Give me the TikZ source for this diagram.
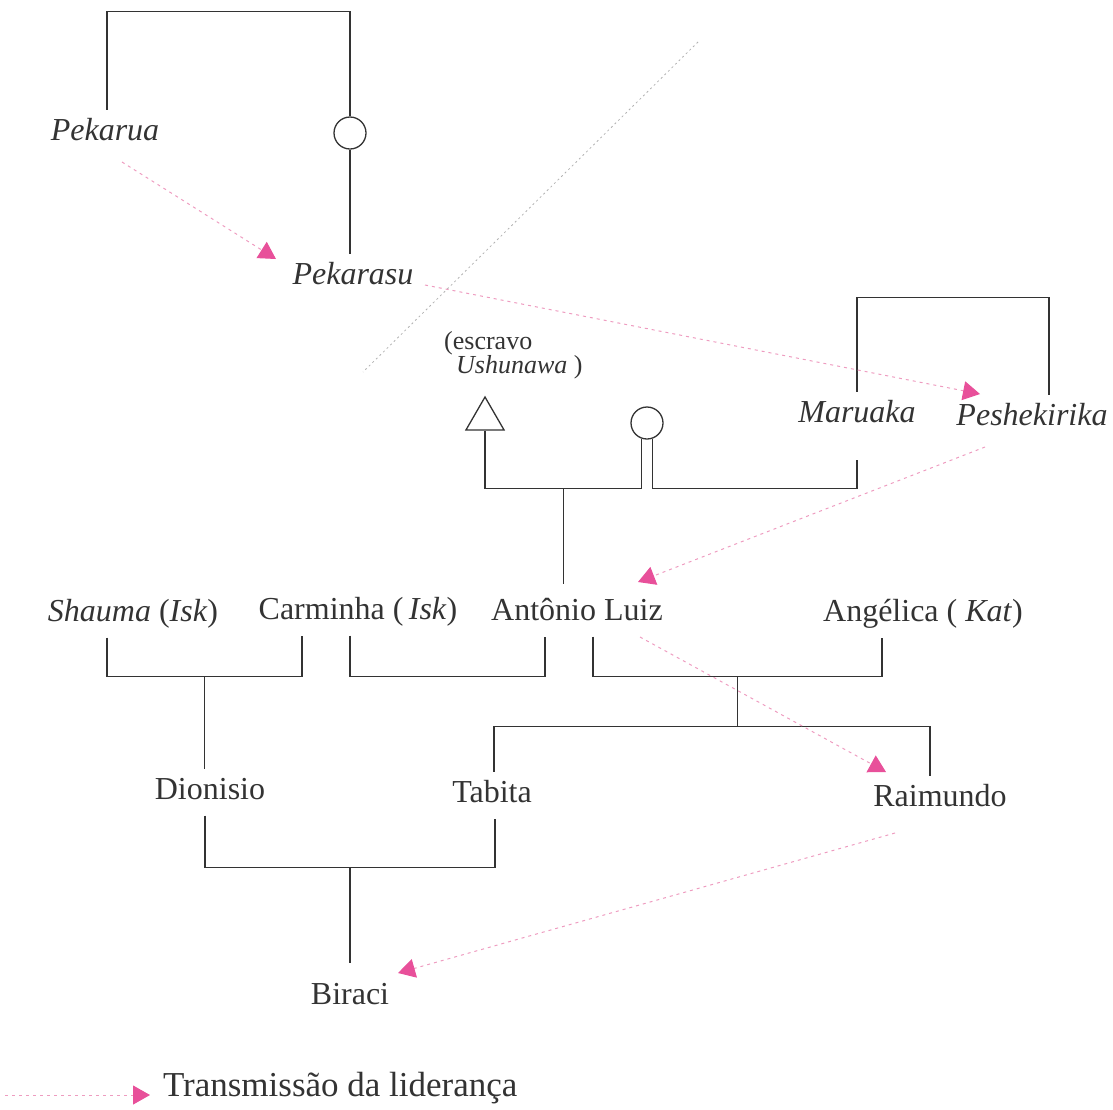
\documentclass[tikz,border=0pt]{standalone}
\usepackage{fontspec}
\setmainfont{Liberation Serif}
\usetikzlibrary{calc,arrows.meta,positioning,shapes.geometric}
\definecolor{tinta}{HTML}{333333}
\definecolor{rosa}{HTML}{E8509A}
\definecolor{rosaclaro}{HTML}{EE9CC0}

\begin{document}
\begin{tikzpicture}[x=1pt, y=-1pt,
    every node/.style={text=tinta, font=\fontsize{32}{36}\selectfont},
    nome/.style={inner sep=2pt, outer sep=7pt, text height=22pt, text depth=7pt},
    nota/.style={inner sep=0pt, font=\fontsize{26}{24}\selectfont},
    mulher/.style={draw=tinta, circle, line width=1.3pt, minimum size=32pt, inner sep=0pt},
    homem/.style={draw=tinta, regular polygon, regular polygon sides=3, line width=1.3pt, minimum size=44pt, inner sep=0pt},
    parente/.style={draw=tinta, line width=1.3pt},
    divisa/.style={draw=gray!60, line width=0.8pt, dash pattern=on 2pt off 3pt},
    lider/.style={draw=rosaclaro, line width=1pt, dash pattern=on 3pt off 4pt, -{Triangle[length=17pt, width=19pt, color=rosa]}}]
    \useasboundingbox (0,0) rectangle (1113,1109);

    % geracoes antigas
    \node[nome] (pekarua) at (105,133) {\textit{Pekarua}};
    \node[mulher] (mae1) at (350,133) {};
    \node[nome] (pekarasu) at (353,277) {\textit{Pekarasu}};
    \node[nome] (maruaka) at (857,415) {\textit{Maruaka}};
    \node[nome] (peshekirika) at (1032,418) {\textit{Peshekirika}};
    \node[nota, anchor=base west] (txtescravo) at (444,349) {(escravo};
    \node[nota, anchor=base west] (txtushunawa) at (456,373) {\textit{Ushunawa} )};
    \node[homem] (escravo) at (485,419) {};
    \node[mulher] (mae2) at (647,423) {};

    % geracoes recentes
    \node[nome] (shauma) at (133,614) {\textit{Shauma} (\textit{Isk})};
    \node[nome] (carminha) at (358,612) {Carminha (\,\textit{Isk})};
    \node[nome] (antonio) at (577,613) {Antônio Luiz};
    \node[nome] (angelica) at (923,614) {Angélica ( \textit{Kat})};
    \node[nome] (dionisio) at (210,792) {Dionisio};
    \node[nome] (tabita) at (492,795) {Tabita};
    \node[nome] (raimundo) at (940,799) {Raimundo};
    \node[nome] (biraci) at (350,997) {Biraci};

    % parentesco
    \draw[parente] ([xshift=2pt]pekarua.north) -- ++(0,-98) -| (mae1.north);
    \draw[parente] (mae1.south) -- (mae1.south |- pekarasu.north);
    \draw[parente] (maruaka.north) -- ++(0,-94) -| ([xshift=17pt]peshekirika.north);
    \draw[parente] (escravo.south) -- ++(0,58) coordinate (uniao) -| (mae2.-110);
    \draw[parente] (mae2.-70) -- ++(0,50) -| ([yshift=-21pt]maruaka.south);
    \draw[parente] ($(uniao)!.5!(uniao -| mae2.-110)$) coordinate (meio1) -- ($(meio1 |- antonio.north)+(0,-6)$);

    \draw[parente] ([xshift=-26pt]shauma.south) -- ++(0,39) -- ++(97.5,0) coordinate (m1) -| ([xshift=-56pt]carminha.south);
    \draw[parente] (m1) -- (m1 |- dionisio.north);
    \draw[parente] ([xshift=-8pt]carminha.south) -- ++(0,41) -| ([xshift=-32pt]antonio.south);
    \draw[parente] ([xshift=16pt]antonio.south) -- ++(0,40) -- ++(144.5,0) coordinate (m2) -| ([xshift=-41pt]angelica.south);
    \draw[parente] (m2) -- ++(0,50) coordinate (m3);
    \draw[parente] ([xshift=2pt]tabita.north) |- (m3) -| ([xshift=-10pt]raimundo.north);
    \draw[parente] ([xshift=-5pt]dionisio.south) -- ++(0,52) -- ++(145,0) coordinate (m4) -| ([xshift=3pt]tabita.south);
    \draw[parente] (m4) -- ([yshift=11pt]biraci.north);

    % divisa
    \draw[divisa] (698,42) -- (363,372);

    % transmissao da lideranca
    \draw[lider] ([shift={(17,29)}]pekarua.center) -- ([shift={(-77,-18)}]pekarasu.center);
    \draw[lider] ([shift={(72,8)}]pekarasu.center) -- ([shift={(-52,-24)}]peshekirika.center);
    \draw[lider] ([shift={(-47,29)}]peshekirika.center) -- ([shift={(61,-31)}]antonio.center);
    \draw[lider] ([shift={(63,24)}]antonio.center) -- ([shift={(-54,-27)}]raimundo.center);
    \draw[lider] ([shift={(-45,34)}]raimundo.center) -- ([shift={(48,-24)}]biraci.center);

    % legenda
    \node[nome, anchor=west, font=\fontsize{35}{40}\selectfont] (legenda) at (154,1089) {Transmissão da liderança};
    \draw[lider] ([shift={(-149,6)}]legenda.west) -- ([shift={(-4,6)}]legenda.west);
\end{tikzpicture}
\end{document}
